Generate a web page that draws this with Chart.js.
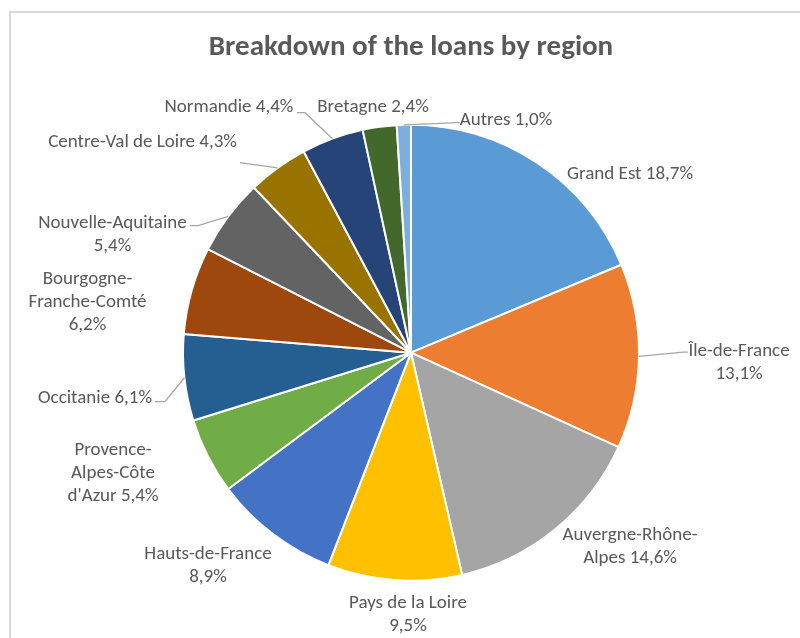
<!DOCTYPE html>
<html>
<head>
<meta charset="utf-8">
<script src="https://cdn.jsdelivr.net/npm/chart.js@4.4.1/dist/chart.umd.min.js"></script>
<style>
  body { margin: 0; background: #fff; }
  #wrap { width: 800px; height: 638px; position: relative; }
</style>
</head>
<body>
<div id="wrap"><canvas id="pieChart"></canvas></div>
<script>
const regions = [
  'Grand Est',
  'Île-de-France',
  'Auvergne-Rhône-Alpes',
  'Pays de la Loire',
  'Hauts-de-France',
  "Provence-Alpes-Côte d'Azur",
  'Occitanie',
  'Bourgogne-Franche-Comté',
  'Nouvelle-Aquitaine',
  'Centre-Val de Loire',
  'Normandie',
  'Bretagne',
  'Autres',
];
const shares = [18.7, 13.1, 14.6, 9.5, 8.9, 5.4, 6.1, 6.2, 5.4, 4.3, 4.4, 2.4, 1.0];
const sliceColors = [
  '#5B9BD5', '#ED7D31', '#A5A5A5', '#FFC000', '#4472C4', '#70AD47', '#255E91',
  '#9E480E', '#636363', '#997300', '#264478', '#43682B', '#7CAFDD',
];

const textColor = '#595959';
const labelFont = '19px Carlito, "Liberation Sans", sans-serif';
const lineHeight = 23;

// label block centres, measured from the pie centre
const labelOffset = [
  [219, -178.5], [328, 10.5], [219, 194], [-3, 262.5], [-203, 213.5], [-298, 120.5], [-316, 46],
  [-323.5, -50], [-298.5, -117.5], [-268.5, -210], [-182, -245], [-38, -245], [95, -232],
];
// widest a label line may get before it wraps
const labelWrap = [200, 110, 140, 130, 135, 110, 200, 125, 150, 300, 200, 200, 200];
// leader end relative to the label centre + short horizontal stub (null = no leader)
const leaders = [
  null, [-56, -11, 5], null, null, null, null, [70, 3, -10],
  null, [85.5, -9.5, -8], [97.5, 20, 0], [76, 5, -8], null, [-48, 2, 2],
];

const fmtShare = (v) => v.toFixed(1).replace('.', ',') + '%';

// greedy wrap, breaking at spaces or right after a hyphen
function wrapLabel(ctx, text, maxWidth) {
  const pieces = [];
  const words = text.split(' ');
  words.forEach((word, wi) => {
    const segs = word.split(/(?<=-)/);
    segs.forEach((s, si) => pieces.push({ t: s, space: si === segs.length - 1 && wi < words.length - 1 }));
  });
  const lines = [];
  let cur = '';
  pieces.forEach((p) => {
    const trial = cur + p.t;
    if (cur && ctx.measureText(trial.trimEnd()).width > maxWidth) {
      lines.push(cur.trimEnd());
      cur = p.t;
    } else {
      cur = trial;
    }
    if (p.space) cur += ' ';
  });
  lines.push(cur.trimEnd());
  return lines;
}

const framePlugin = {
  id: 'frame',
  beforeDraw(chart) {
    const ctx = chart.ctx;
    ctx.save();
    ctx.strokeStyle = '#D9D9D9';
    ctx.lineWidth = 2;
    ctx.strokeRect(10, 12, 820, 700);
    ctx.restore();
  },
};

const sliceLabels = {
  id: 'sliceLabels',
  afterDatasetsDraw(chart) {
    const ctx = chart.ctx;
    const arcs = chart.getDatasetMeta(0).data;
    ctx.save();
    ctx.font = labelFont;
    ctx.fillStyle = textColor;
    ctx.textAlign = 'center';
    ctx.textBaseline = 'middle';
    arcs.forEach((arc, i) => {
      const { x, y, startAngle, endAngle, outerRadius } = arc.getProps(['x', 'y', 'startAngle', 'endAngle', 'outerRadius'], true);
      const lx = x + labelOffset[i][0];
      const ly = y + labelOffset[i][1];
      const lines = wrapLabel(ctx, `${regions[i]} ${fmtShare(shares[i])}`, labelWrap[i]);
      lines.forEach((line, k) => {
        ctx.fillText(line, lx, ly + (k - (lines.length - 1) / 2) * lineHeight);
      });

      const lead = leaders[i];
      if (!lead) return;
      const mid = (startAngle + endAngle) / 2;
      const ex = lx + lead[0];
      const ey = ly + lead[1];
      ctx.beginPath();
      ctx.strokeStyle = '#A6A6A6';
      ctx.lineWidth = 1.3;
      ctx.moveTo(x + outerRadius * Math.cos(mid), y + outerRadius * Math.sin(mid));
      ctx.lineTo(ex, ey);
      ctx.lineTo(ex + lead[2], ey);
      ctx.stroke();
    });
    ctx.restore();
  },
};

new Chart(document.getElementById('pieChart'), {
  type: 'pie',
  data: {
    labels: regions,
    datasets: [
      {
        data: shares,
        backgroundColor: sliceColors,
        borderColor: '#FFFFFF',
        borderWidth: 2,
        radius: 228,
      },
    ],
  },
  options: {
    responsive: true,
    maintainAspectRatio: false,
    animation: false,
    layout: { padding: { top: 0, left: 183, right: 161, bottom: 57 } },
    plugins: {
      legend: { display: false },
      tooltip: { enabled: false },
      title: {
        display: true,
        text: 'Breakdown of the loans by region',
        color: textColor,
        font: { family: 'Carlito', size: 29, weight: 'bold', lineHeight: 1.2 },
        padding: { top: 30, bottom: 59.6 },
      },
    },
  },
  plugins: [framePlugin, sliceLabels],
});
</script>
</body>
</html>
